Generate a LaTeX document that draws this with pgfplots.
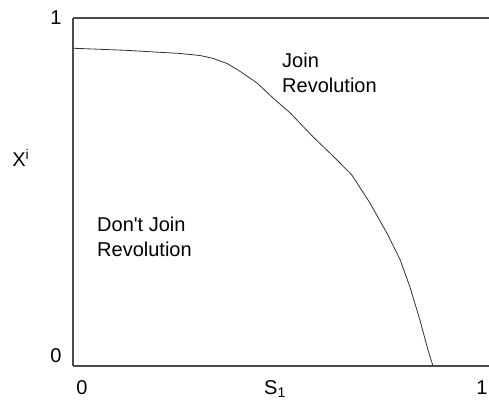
\documentclass[border=0pt]{standalone}
\usepackage{fontspec}
\setmainfont{Liberation Sans}
\usepackage{pgfplots}
\pgfplotsset{compat=1.18}

\pgfplotstableread{
x      y
0.000  0.913
0.044  0.911
0.130  0.907
0.188  0.903
0.262  0.898
0.311  0.892
0.342  0.884
0.377  0.869
0.408  0.847
0.450  0.813
0.489  0.770
0.531  0.727
0.587  0.658
0.641  0.597
0.682  0.548
0.726  0.468
0.770  0.376
0.800  0.304
0.824  0.226
0.848  0.132
0.868  0.045
0.880  0.000
}\frontier

\begin{document}
\fontsize{20}{24}\selectfont
\begin{tikzpicture}
\useasboundingbox (-73pt,-36.3pt) rectangle (416pt,365.7pt);
\begin{axis}[
    at={(0,0)}, anchor=south west,
    scale only axis,
    width=416pt, height=347.7pt,
    xmin=0, xmax=1.01711, ymin=0, ymax=1,
    axis x line=bottom, axis y line=left,
    axis line style={-, black!70, line width=1.6pt},
    major tick length=0pt,
    xtick={0.022,0.494,1}, xticklabels={0,S\textsubscript{1},1},
    ytick={0.028,1}, yticklabels={0,1},
    tick label style={font=\fontsize{20}{24}\selectfont},
    xticklabel style={yshift=-8pt},
    yticklabel style={xshift=-4.7pt},
    clip=false
]
\addplot[black!80, line width=0.8pt] table[x=x, y=y] {\frontier};
\draw[black!70, line width=1.6pt] (rel axis cs:0,1) -- (rel axis cs:1,1);
\node[anchor=base west, inner sep=0] at (axis cs:-0.149,0.5715) {X\textsuperscript{i}};
\node[anchor=base west, inner sep=0] at (axis cs:0.511,0.859) {Join};
\node[anchor=base west, inner sep=0] at (axis cs:0.511,0.785) {Revolution};
\node[anchor=base west, inner sep=0] at (axis cs:0.0587,0.387) {Don\textquotesingle t Join};
\node[anchor=base west, inner sep=0] at (axis cs:0.0587,0.313) {Revolution};
\end{axis}
\end{tikzpicture}
\end{document}
